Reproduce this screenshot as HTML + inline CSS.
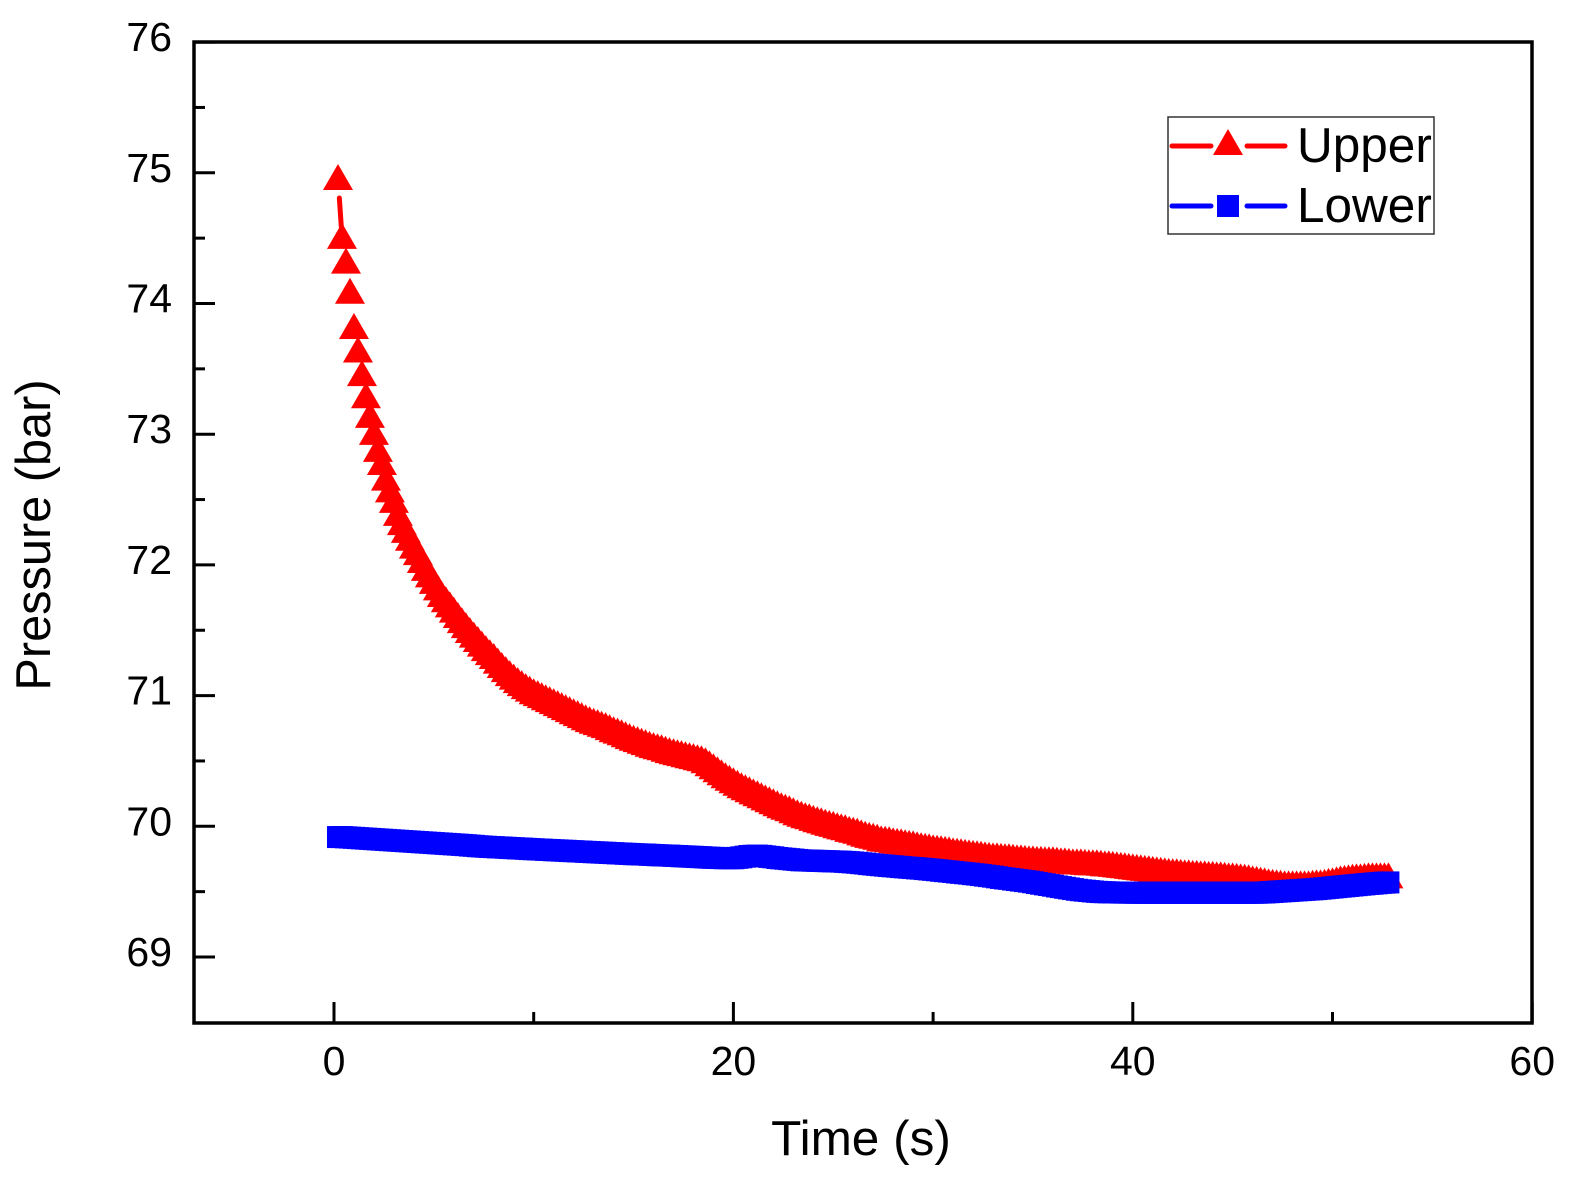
<!DOCTYPE html>
<html>
<head>
<meta charset="utf-8">
<title>Pressure vs Time</title>
<style>
html,body{margin:0;padding:0;background:#fff;}
svg{display:block;}
text{font-family:"Liberation Sans",Arial,sans-serif;fill:#000;}
</style>
</head>
<body>
<svg id="chart" xmlns="http://www.w3.org/2000/svg" width="1571" height="1177" viewBox="0 0 1571 1177">
  <rect x="0" y="0" width="1571" height="1177" fill="#fff"/>
  <g id="series"></g>
  <rect x="194" y="42" width="1338" height="981" fill="none" stroke="#000" stroke-width="3.5"/>
  <g id="axes"></g>
  <text x="861" y="1155" font-size="49.5" text-anchor="middle">Time (s)</text>
  <text transform="translate(50,535) rotate(-90)" font-size="48.7" text-anchor="middle">Pressure (bar)</text>
  <g>
    <rect x="1168" y="117" width="266" height="117" fill="#fff" stroke="#333" stroke-width="1.5"/>
    <g>
      <line x1="1172" y1="146" x2="1211" y2="146" stroke="#f00" stroke-width="5" stroke-linecap="round"/>
      <line x1="1247" y1="146" x2="1285" y2="146" stroke="#f00" stroke-width="5" stroke-linecap="round"/>
      <polygon points="1228,129 1243,155 1213,155" fill="#f00"/>
      <text x="1297" y="162" font-size="49.5">Upper</text>
    </g>
    <g>
      <line x1="1172" y1="206" x2="1211" y2="206" stroke="#00f" stroke-width="5" stroke-linecap="round"/>
      <line x1="1247" y1="206" x2="1285" y2="206" stroke="#00f" stroke-width="5" stroke-linecap="round"/>
      <rect x="1217" y="195" width="22" height="22" fill="#00f"/>
      <text x="1297" y="222" font-size="49.5">Lower</text>
    </g>
  </g>
</svg>
<script>
var timeValues = [
0.2,0.4,0.6,0.8,1.0,1.2,1.4,1.6,1.8,2.0,
2.2,2.4,2.6,2.8,3.0,3.2,3.4,3.6,3.8,4.0,
4.2,4.4,4.6,4.8,5.0,5.2,5.4,5.6,5.8,6.0,
6.2,6.4,6.6,6.8,7.0,7.2,7.4,7.6,7.8,8.0,
8.2,8.4,8.6,8.8,9.0,9.2,9.4,9.6,9.8,10.0,
10.2,10.4,10.6,10.8,11.0,11.2,11.4,11.6,11.8,12.0,
12.2,12.4,12.6,12.8,13.0,13.2,13.4,13.6,13.8,14.0,
14.2,14.4,14.6,14.8,15.0,15.2,15.4,15.6,15.8,16.0,
16.2,16.4,16.6,16.8,17.0,17.2,17.4,17.6,17.8,18.0,
18.2,18.4,18.6,18.8,19.0,19.2,19.4,19.6,19.8,20.0,
20.2,20.4,20.6,20.8,21.0,21.2,21.4,21.6,21.8,22.0,
22.2,22.4,22.6,22.8,23.0,23.2,23.4,23.6,23.8,24.0,
24.2,24.4,24.6,24.8,25.0,25.2,25.4,25.6,25.8,26.0,
26.2,26.4,26.6,26.8,27.0,27.2,27.4,27.6,27.8,28.0,
28.2,28.4,28.6,28.8,29.0,29.2,29.4,29.6,29.8,30.0,
30.2,30.4,30.6,30.8,31.0,31.2,31.4,31.6,31.8,32.0,
32.2,32.4,32.6,32.8,33.0,33.2,33.4,33.6,33.8,34.0,
34.2,34.4,34.6,34.8,35.0,35.2,35.4,35.6,35.8,36.0,
36.2,36.4,36.6,36.8,37.0,37.2,37.4,37.6,37.8,38.0,
38.2,38.4,38.6,38.8,39.0,39.2,39.4,39.6,39.8,40.0,
40.2,40.4,40.6,40.8,41.0,41.2,41.4,41.6,41.8,42.0,
42.2,42.4,42.6,42.8,43.0,43.2,43.4,43.6,43.8,44.0,
44.2,44.4,44.6,44.8,45.0,45.2,45.4,45.6,45.8,46.0,
46.2,46.4,46.6,46.8,47.0,47.2,47.4,47.6,47.8,48.0,
48.2,48.4,48.6,48.8,49.0,49.2,49.4,49.6,49.8,50.0,
50.2,50.4,50.6,50.8,51.0,51.2,51.4,51.6,51.8,52.0,
52.2,52.4,52.6,52.8
];
var upperValues = [
74.96,74.51,74.32,74.09,73.82,73.64,73.46,73.29,73.14,73.01,
72.88,72.78,72.66,72.57,72.49,72.39,72.32,72.26,72.20,72.14,
72.09,72.03,71.97,71.92,71.87,71.82,71.77,71.73,71.69,71.65,
71.609,71.570,71.532,71.494,71.459,71.425,71.390,71.356,71.325,71.295,
71.260,71.226,71.195,71.164,71.138,71.111,71.088,71.065,71.046,71.026,
71.011,70.996,70.980,70.965,70.950,70.935,70.919,70.904,70.889,70.873,
70.858,70.843,70.827,70.812,70.800,70.789,70.777,70.766,70.751,70.735,
70.724,70.712,70.697,70.682,70.670,70.659,70.647,70.636,70.624,70.613,
70.605,70.597,70.586,70.575,70.567,70.559,70.552,70.544,70.536,70.529,
70.521,70.513,70.498,70.475,70.452,70.429,70.406,70.383,70.364,70.345,
70.326,70.306,70.291,70.276,70.260,70.245,70.230,70.214,70.199,70.184,
70.169,70.153,70.142,70.130,70.115,70.100,70.088,70.077,70.069,70.057,
70.046,70.038,70.027,70.019,70.011,70.000,69.992,69.985,69.973,69.966,
69.958,69.946,69.935,69.927,69.920,69.912,69.900,69.897,69.893,69.885,
69.881,69.877,69.870,69.866,69.862,69.854,69.847,69.843,69.839,69.831,
69.828,69.824,69.820,69.816,69.808,69.805,69.801,69.797,69.793,69.789,
69.786,69.782,69.778,69.774,69.770,69.770,69.766,69.763,69.763,69.759,
69.755,69.755,69.751,69.747,69.747,69.743,69.743,69.740,69.740,69.740,
69.736,69.732,69.732,69.728,69.724,69.724,69.724,69.720,69.717,69.717,
69.717,69.713,69.709,69.709,69.705,69.701,69.697,69.694,69.690,69.686,
69.682,69.678,69.674,69.671,69.667,69.663,69.659,69.655,69.651,69.648,
69.648,69.644,69.640,69.640,69.636,69.636,69.632,69.632,69.628,69.628,
69.625,69.625,69.621,69.617,69.617,69.613,69.609,69.606,69.602,69.594,
69.590,69.583,69.579,69.571,69.567,69.563,69.560,69.556,69.556,69.556,
69.556,69.556,69.556,69.556,69.560,69.563,69.563,69.567,69.575,69.579,
69.586,69.594,69.598,69.602,69.606,69.609,69.609,69.613,69.617,69.617,
69.617,69.617,69.617,69.617
];
var lowerValues = [
69.910,69.910,69.908,69.906,69.904,69.902,69.900,69.898,69.896,69.894,
69.892,69.890,69.888,69.886,69.884,69.882,69.880,69.878,69.876,69.874,
69.872,69.870,69.868,69.866,69.864,69.862,69.860,69.858,69.856,69.854,
69.852,69.850,69.848,69.845,69.843,69.840,69.838,69.836,69.834,69.833,
69.831,69.830,69.828,69.826,69.825,69.823,69.822,69.820,69.818,69.817,
69.815,69.814,69.812,69.811,69.809,69.808,69.806,69.805,69.803,69.802,
69.800,69.799,69.797,69.796,69.794,69.793,69.791,69.790,69.788,69.787,
69.785,69.784,69.782,69.781,69.779,69.778,69.777,69.776,69.774,69.773,
69.771,69.770,69.769,69.768,69.766,69.765,69.763,69.762,69.760,69.759,
69.757,69.756,69.754,69.752,69.751,69.750,69.749,69.748,69.748,69.748,
69.751,69.755,69.760,69.765,69.767,69.768,69.766,69.762,69.758,69.755,
69.750,69.747,69.744,69.741,69.738,69.735,69.732,69.731,69.730,69.729,
69.728,69.727,69.726,69.725,69.724,69.723,69.722,69.720,69.718,69.716,
69.713,69.710,69.707,69.703,69.700,69.697,69.694,69.691,69.688,69.686,
69.683,69.680,69.678,69.675,69.673,69.670,69.668,69.665,69.662,69.659,
69.656,69.652,69.649,69.646,69.643,69.639,69.636,69.633,69.630,69.626,
69.623,69.619,69.615,69.611,69.607,69.602,69.597,69.593,69.590,69.585,
69.581,69.577,69.573,69.569,69.564,69.558,69.553,69.548,69.543,69.538,
69.532,69.527,69.522,69.517,69.512,69.507,69.503,69.500,69.497,69.494,
69.491,69.489,69.488,69.487,69.486,69.486,69.485,69.485,69.485,69.485,
69.484,69.484,69.484,69.484,69.484,69.484,69.484,69.484,69.484,69.484,
69.484,69.484,69.484,69.484,69.484,69.484,69.484,69.484,69.484,69.484,
69.484,69.484,69.484,69.484,69.484,69.484,69.484,69.484,69.484,69.484,
69.484,69.485,69.486,69.488,69.490,69.492,69.494,69.496,69.498,69.500,
69.502,69.504,69.506,69.508,69.510,69.512,69.515,69.518,69.521,69.524,
69.527,69.530,69.533,69.536,69.539,69.542,69.545,69.548,69.551,69.553,
69.556,69.559,69.561,69.563
];
var xMajorTicks = [0,20,40,60];
var xMinorTicks = [10,30,50];
var yMajorTicks = [69,70,71,72,73,74,75,76];
var yMinorTicks = [69.5,70.5,71.5,72.5,73.5,74.5,75.5];

var NS = 'http://www.w3.org/2000/svg';
function xScale(t){ return 334 + t * 19.97; }
function yScale(v){ return 957 - (v - 69) * 130.7; }

var axes = document.getElementById('axes');
var seriesLayer = document.getElementById('series');

function tickLine(x1, y1, x2, y2){
  var l = document.createElementNS(NS, 'line');
  l.setAttribute('x1', x1);
  l.setAttribute('y1', y1);
  l.setAttribute('x2', x2);
  l.setAttribute('y2', y2);
  l.setAttribute('stroke', '#000');
  l.setAttribute('stroke-width', '3');
  return l;
}
function tickLabel(x, y, str, anchor){
  var t = document.createElementNS(NS, 'text');
  t.setAttribute('x', x);
  t.setAttribute('y', y);
  t.setAttribute('font-size', '41');
  t.setAttribute('text-anchor', anchor);
  t.textContent = str;
  return t;
}
xMajorTicks.forEach(function(v){
  var l = tickLine(xScale(v), 1023, xScale(v), 1002);
  
  
  axes.appendChild(l);
  var t = tickLabel(xScale(v), 1075, String(v), 'middle');
  
  
  axes.appendChild(t);
});
xMinorTicks.forEach(function(v){
  var l = tickLine(xScale(v), 1023, xScale(v), 1012);
  
  
  axes.appendChild(l);
});
yMajorTicks.forEach(function(v){
  var l = tickLine(194, yScale(v), 215, yScale(v));
  
  
  axes.appendChild(l);
  var t = tickLabel(172, yScale(v) + 9, String(v), 'end');
  
  
  axes.appendChild(t);
});
yMinorTicks.forEach(function(v){
  var l = tickLine(194, yScale(v), 205, yScale(v));
  
  
  axes.appendChild(l);
});

function drawConnector(values, color, name){
  for (var i = 0; i < values.length - 1; i++){
    var x1 = xScale(timeValues[i]), y1 = yScale(values[i]);
    var x2 = xScale(timeValues[i + 1]), y2 = yScale(values[i + 1]);
    var d = Math.sqrt((x2 - x1) * (x2 - x1) + (y2 - y1) * (y2 - y1));
    if (d > 42){
      var ux = (x2 - x1) / d, uy = (y2 - y1) / d;
      var seg = document.createElementNS(NS, 'line');
      
      
      seg.setAttribute('x1', x1 + ux * 20);
      seg.setAttribute('y1', y1 + uy * 20);
      seg.setAttribute('x2', x2 - ux * 10);
      seg.setAttribute('y2', y2 - uy * 10);
      seg.setAttribute('stroke', color);
      seg.setAttribute('stroke-width', '5');
      seg.setAttribute('stroke-linecap', 'round');
      seriesLayer.appendChild(seg);
    }
  }
}
drawConnector(upperValues, '#f00', 'upper-line-segment');
drawConnector(lowerValues, '#00f', 'lower-line-segment');

upperValues.forEach(function(v, i){
  var x = xScale(timeValues[i]), y = yScale(v);
  var p = document.createElementNS(NS, 'polygon');
  
  
  p.setAttribute('points', x + ',' + (y - 14) + ' ' + (x + 15) + ',' + (y + 12) + ' ' + (x - 15) + ',' + (y + 12));
  p.setAttribute('fill', '#f00');
  seriesLayer.appendChild(p);
});
lowerValues.forEach(function(v, i){
  var x = xScale(timeValues[i]), y = yScale(v);
  var r = document.createElementNS(NS, 'rect');
  
  
  r.setAttribute('x', x - 11);
  r.setAttribute('y', y - 12);
  r.setAttribute('width', 22);
  r.setAttribute('height', 22);
  r.setAttribute('fill', '#00f');
  seriesLayer.appendChild(r);
});
</script>
</body>
</html>
